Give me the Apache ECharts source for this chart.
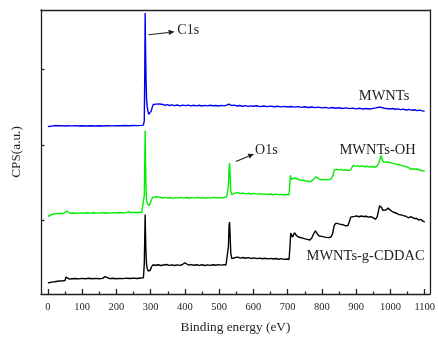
<!DOCTYPE html>
<html><head><meta charset="utf-8">
<script src="https://cdn.jsdelivr.net/npm/echarts@6/dist/echarts.min.js"></script>
<style>html,body{margin:0;padding:0;background:#fff}#c{width:438px;height:339px}</style>
</head><body><div id="c"></div><script>
const xTickLabels = [0,100,200,300,400,500,600,700,800,900,1000,1100];
const xMinorTicks = [50,150,250,350,450,550,650,750,850,950,1050];
const yTicks = [1000,2000,3000];
const seriesNames = ['MWNTs','MWNTs-OH','MWNTs-g-CDDAC'];

const mwnts = [
[0,2243],[8,2247],[15,2252],[22,2256],[30,2253],[40,2255],[50,2251],[60,2254],[70,2252],[80,2255],[90,2251],[100,2253],[112,2250],[125,2254],[138,2251],[150,2253],[162,2250],[175,2254],[188,2252],[200,2255],[212,2253],[225,2256],[238,2254],[250,2256],[262,2255],[272,2258],[279,2262],[281.5,2320],[282.8,2900],[284,3749],[285,3350],[286.5,2900],[288,2620],[290,2510],[292,2450],[294.5,2405],[297,2396],[299.5,2410],[302,2450],[305,2505],[308,2535],[312,2552],[316,2540],[320,2535],[325,2542],[330,2528],[336,2536],[342,2524],[348,2533],[355,2522],[362,2530],[370,2520],[378,2529],[386,2518],[394,2527],[402,2520],[410,2528],[418,2517],[426,2525],[434,2518],[442,2526],[450,2516],[458,2524],[466,2517],[474,2525],[482,2519],[490,2523],[498,2516],[506,2524],[514,2518],[522,2527],[528,2540],[532,2536],[537,2522],[544,2528],[552,2515],[560,2522],[568,2513],[576,2520],[584,2510],[592,2518],[600,2512],[610,2519],[620,2508],[630,2515],[640,2507],[650,2514],[660,2505],[670,2512],[680,2504],[690,2511],[700,2503],[710,2509],[720,2500],[730,2507],[740,2498],[750,2505],[760,2496],[770,2503],[780,2494],[790,2500],[800,2491],[810,2498],[820,2488],[830,2495],[840,2486],[850,2492],[860,2483],[870,2490],[880,2481],[890,2487],[900,2478],[910,2485],[920,2475],[930,2482],[940,2476],[950,2484],[958,2490],[965,2500],[970,2506],[975,2495],[982,2486],[990,2482],[998,2476],[1006,2483],[1014,2472],[1022,2478],[1030,2468],[1038,2474],[1046,2463],[1054,2470],[1062,2460],[1070,2466],[1078,2455],[1086,2461],[1094,2450],[1100,2447]
];

const mwntsOH = [
[0,1052],[6,1062],[12,1075],[20,1085],[30,1090],[40,1088],[48,1094],[52,1105],[55,1122],[58,1100],[65,1092],[75,1096],[85,1090],[95,1097],[105,1092],[115,1098],[125,1093],[135,1099],[145,1094],[155,1100],[162,1096],[167,1118],[172,1098],[180,1094],[190,1100],[200,1095],[210,1101],[220,1096],[230,1103],[236,1112],[242,1100],[250,1104],[258,1099],[266,1106],[274,1101],[279,1108],[281.5,1330],[282.8,1750],[284,2191],[285,1800],[286.5,1450],[288,1280],[290,1225],[293,1200],[296,1192],[299,1215],[302,1265],[306,1305],[310,1322],[315,1310],[320,1298],[327,1306],[334,1294],[341,1303],[348,1292],[356,1301],[364,1290],[372,1300],[380,1292],[388,1302],[396,1293],[404,1301],[412,1291],[420,1300],[428,1292],[436,1302],[444,1294],[452,1300],[460,1291],[468,1299],[476,1293],[484,1302],[492,1295],[500,1300],[508,1293],[515,1301],[522,1310],[527,1450],[529,1680],[530.4,1757],[532,1600],[534,1380],[537,1340],[542,1350],[548,1362],[555,1366],[562,1352],[570,1360],[578,1350],[586,1358],[594,1347],[602,1355],[610,1345],[618,1352],[626,1342],[634,1350],[642,1340],[650,1347],[658,1338],[666,1345],[674,1336],[682,1342],[690,1334],[698,1340],[704,1338],[706,1450],[708,1596],[711,1540],[714,1548],[718,1560],[723,1585],[727,1550],[732,1535],[738,1528],[745,1532],[752,1518],[758,1522],[764,1509],[770,1520],[776,1545],[782,1575],[787,1560],[793,1545],[800,1535],[807,1542],[814,1535],[821,1540],[827,1548],[832,1590],[836,1665],[842,1678],[848,1668],[855,1675],[862,1662],[869,1670],[876,1658],[883,1665],[888,1700],[891,1728],[897,1718],[904,1724],[911,1712],[918,1720],[925,1708],[932,1716],[939,1705],[946,1712],[953,1702],[960,1715],[966,1755],[970,1820],[973,1860],[976,1800],[980,1770],[985,1762],[990,1772],[994,1780],[999,1765],[1005,1758],[1012,1748],[1019,1740],[1026,1732],[1033,1728],[1040,1715],[1047,1710],[1054,1695],[1060,1672],[1066,1685],[1072,1676],[1078,1680],[1084,1666],[1090,1660],[1095,1648],[1100,1652]
];

const mwntsCDDAC = [
[0,169],[6,172],[12,178],[20,182],[28,190],[36,193],[44,196],[50,200],[53,245],[55,270],[58,240],[63,218],[70,222],[80,226],[90,221],[100,228],[110,223],[120,229],[130,222],[140,227],[150,223],[160,228],[164,238],[167,252],[171,232],[180,224],[190,229],[200,222],[210,228],[220,224],[230,230],[240,225],[250,231],[260,226],[270,232],[279,235],[281.5,420],[282.8,750],[284,1074],[285,820],[286.5,560],[288,420],[290,360],[293,325],[296,312],[299,335],[302,375],[306,405],[311,413],[316,402],[322,408],[330,398],[338,405],[346,412],[354,400],[362,407],[370,398],[378,406],[386,400],[393,412],[398,430],[400,435],[403,418],[410,405],[418,410],[426,401],[434,409],[442,400],[450,408],[458,399],[466,407],[474,400],[482,409],[490,402],[498,410],[506,403],[514,410],[520,405],[525,430],[527,650],[529,930],[530.4,974],[532,800],[534,560],[537,490],[542,498],[548,505],[555,510],[562,497],[570,505],[578,494],[586,502],[594,492],[602,500],[610,490],[618,497],[626,488],[634,495],[642,486],[650,493],[658,484],[666,491],[674,482],[682,489],[690,480],[698,485],[704,478],[706,600],[709,830],[711,856],[714,775],[717,800],[720,834],[724,805],[730,780],[737,770],[744,762],[751,752],[758,745],[764,735],[770,760],[776,820],[781,857],[786,820],[792,790],[799,785],[806,778],[813,772],[821,768],[827,780],[831,820],[836,930],[841,960],[846,965],[852,948],[858,942],[864,935],[870,925],[876,930],[880,980],[884,1040],[889,1062],[895,1050],[901,1056],[908,1045],[915,1055],[922,1048],[929,1052],[936,1040],[943,1046],[950,1030],[956,1012],[961,1040],[965,1120],[968,1190],[971,1215],[974,1170],[978,1130],[982,1118],[987,1135],[993,1160],[998,1140],[1004,1118],[1010,1105],[1017,1092],[1024,1076],[1031,1070],[1038,1060],[1045,1052],[1052,1032],[1058,1045],[1064,1038],[1070,1020],[1076,1025],[1082,1002],[1088,1010],[1094,990],[1100,975]
];

const FONT = '"Liberation Serif", "Times New Roman", serif';
const INK = '#1f1f1f';
const frame = {color: '#222', width: 1.3};

const chart = echarts.init(document.getElementById('c'), null, {renderer: 'canvas'});
chart.setOption({
  animation: false,
  backgroundColor: '#fff',
  grid: {left: 41, top: 10, right: 3, bottom: 40, containLabel: false},
  xAxis: [
    {type: 'value', min: -20, max: 1115, position: 'bottom',
     axisLine: {show: true, onZero: false, lineStyle: frame},
     axisTick: {show: true, inside: true, length: 5, customValues: xTickLabels, lineStyle: frame},
     axisLabel: {show: true, customValues: xTickLabels, formatter: v => String(v),
                 fontFamily: FONT, fontSize: 10.5, color: INK, margin: 8},
     splitLine: {show: false},
     name: 'Binding energy (eV)', nameLocation: 'middle', nameGap: 27,
     nameTextStyle: {fontFamily: FONT, fontSize: 13.3, color: INK}},
    {type: 'value', min: -20, max: 1115, position: 'bottom',
     axisLine: {show: false, onZero: false},
     axisTick: {show: true, inside: true, length: 2.5, customValues: xMinorTicks, lineStyle: frame},
     axisLabel: {show: false}, splitLine: {show: false}},
    {type: 'value', min: -20, max: 1115, position: 'top',
     axisLine: {show: true, onZero: false, lineStyle: frame},
     axisTick: {show: false}, axisLabel: {show: false}, splitLine: {show: false}}
  ],
  yAxis: [
    {type: 'value', min: 20, max: 3790, position: 'left',
     axisLine: {show: true, onZero: false, lineStyle: frame},
     axisTick: {show: true, inside: true, length: 3.5, customValues: yTicks, lineStyle: frame},
     axisLabel: {show: false}, splitLine: {show: false},
     name: 'CPS(a.u.)', nameLocation: 'middle', nameGap: 18, nameRotate: 90,
     nameTextStyle: {fontFamily: FONT, fontSize: 13.3, color: INK}},
    {type: 'value', min: 20, max: 3790, position: 'right',
     axisLine: {show: true, onZero: false, lineStyle: frame},
     axisTick: {show: false}, axisLabel: {show: false}, splitLine: {show: false}}
  ],
  series: [
    {name: seriesNames[2], type: 'line', data: mwntsCDDAC, showSymbol: false, symbol: 'none',
     lineStyle: {color: '#000', width: 1.4}, xAxisIndex: 0, yAxisIndex: 0},
    {name: seriesNames[1], type: 'line', data: mwntsOH, showSymbol: false, symbol: 'none',
     lineStyle: {color: '#00ee00', width: 1.4}, xAxisIndex: 0, yAxisIndex: 0},
    {name: seriesNames[0], type: 'line', data: mwnts, showSymbol: false, symbol: 'none',
     lineStyle: {color: '#0000f0', width: 1.4}, xAxisIndex: 0, yAxisIndex: 0}
  ]
});

// annotations positioned in data space
const px = (x, y) => chart.convertToPixel({xAxisIndex: 0, yAxisIndex: 0}, [x, y]);
function label(text, at, align, size) {
  const p = px(at[0], at[1]);
  return {type: 'text', x: p[0], y: p[1], silent: true,
    style: {text: text, font: size + 'px ' + FONT, fill: INK,
            align: align, verticalAlign: 'middle', textAlign: align, textVerticalAlign: 'middle'}};
}
function arrow(from, to) {
  const a = px(from[0], from[1]), b = px(to[0], to[1]);
  const dx = b[0] - a[0], dy = b[1] - a[1], L = Math.hypot(dx, dy);
  const ux = dx / L, uy = dy / L, hl = 6, hw = 2.6;
  const base = [b[0] - ux * hl, b[1] - uy * hl];
  return [
    {type: 'line', silent: true, shape: {x1: a[0], y1: a[1], x2: base[0], y2: base[1]},
     style: {stroke: INK, lineWidth: 1.1}},
    {type: 'polygon', silent: true,
     shape: {points: [b, [base[0] - uy * hw, base[1] + ux * hw], [base[0] + uy * hw, base[1] - ux * hw]]},
     style: {fill: INK}}
  ];
}
chart.setOption({
  graphic: [
    label('C1s', [378, 3518], 'left', 14),
    ...arrow([294, 3462], [370, 3501]),
    label('O1s', [605, 1930], 'left', 14),
    ...arrow([549, 1779], [602, 1880]),
    label(seriesNames[0], [1055, 2640], 'right', 14.5),
    label(seriesNames[1], [1074, 1935], 'right', 14.5),
    label(seriesNames[2], [1100, 517], 'right', 14.5)
  ]
});
</script></body></html>
